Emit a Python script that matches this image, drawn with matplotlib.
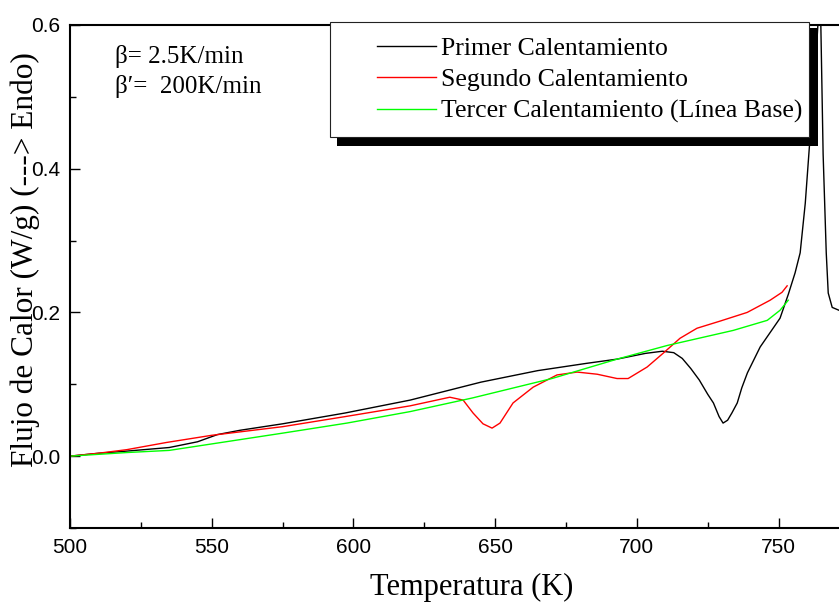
import matplotlib
matplotlib.use("Agg")
import matplotlib.pyplot as plt
from matplotlib.patches import Rectangle
from matplotlib.ticker import MultipleLocator

"""data read off the reference (T in K, heat flow in W/g)"""

t_primer = [500, 510, 520, 535, 545, 552, 560, 575, 597, 620, 645, 665, 682, 693,
            703, 709, 713, 716, 719, 722, 725, 727, 729, 730.4, 732, 733.5, 735.4,
            737, 739, 743.5, 747, 750.5, 753.4, 755.8, 757.6, 759.4, 761.1, 762.9,
            764, 764.8, 765.7, 766.8, 767.5, 768.9, 771.3]
q_primer = [0.0, 0.004, 0.007, 0.012, 0.02, 0.03, 0.036, 0.045, 0.06, 0.078, 0.103,
            0.119, 0.129, 0.135, 0.143, 0.146, 0.144, 0.136, 0.122, 0.106, 0.086,
            0.074, 0.055, 0.046, 0.05, 0.06, 0.074, 0.095, 0.116, 0.152, 0.172,
            0.192, 0.225, 0.255, 0.283, 0.352, 0.444, 0.537, 0.61, 0.62, 0.42,
            0.283, 0.227, 0.207, 0.203]

t_segundo = [500, 510, 520, 534, 550, 575, 597, 620, 634, 638.7, 642.2, 645.7, 648.9,
             651.7, 656.3, 663.4, 671.8, 678.9, 686, 693, 696.9, 703.6, 709.2, 715.2,
             721.2, 729.4, 738.9, 747, 751.2, 753]
q_segundo = [0.0, 0.004, 0.009, 0.019, 0.029, 0.041, 0.055, 0.07, 0.082, 0.078, 0.06,
             0.045, 0.039, 0.046, 0.074, 0.096, 0.113, 0.117, 0.114, 0.108, 0.108,
             0.124, 0.143, 0.164, 0.178, 0.188, 0.2, 0.217, 0.228, 0.237]

t_tercer = [500, 520, 535, 550, 575, 597.7, 620, 642, 670, 693, 710.7, 734, 746,
            750.5, 753.4]
q_tercer = [0.0, 0.005, 0.008, 0.017, 0.032, 0.046, 0.062, 0.081, 0.108, 0.135,
            0.154, 0.175, 0.189, 0.203, 0.217]

labels = ["Primer Calentamiento", "Segundo Calentamiento",
          "Tercer Calentamiento (Línea Base)"]
colors = ["black", "#ff0000", "#00ff00"]

serif = ["Liberation Serif", "DejaVu Serif"]
sans = ["Liberation Sans", "DejaVu Sans"]

W, H = 839, 605
fig = plt.figure(figsize=(W / 100, H / 100), dpi=100)
ax = fig.add_axes([70 / W, 1 - 528 / H, 769 / W, 503 / H])

series = [(t_primer, q_primer), (t_segundo, q_segundo), (t_tercer, q_tercer)]
handles = []
for (t, q), lab, c in zip(series, labels, colors):
    ln, = ax.plot(t, q, color=c, lw=1.0, label=lab)
    handles.append(ln)

ax.set_xlim(500, 771.3)
ax.set_ylim(-0.1, 0.6)
ax.xaxis.set_major_locator(MultipleLocator(50))
ax.xaxis.set_minor_locator(MultipleLocator(25))
ax.yaxis.set_major_locator(MultipleLocator(0.2))
ax.yaxis.set_minor_locator(MultipleLocator(0.1))
ax.tick_params(which="both", direction="in", width=1.0, labelsize=15, pad=7)
ax.tick_params(which="major", length=7.5)
ax.tick_params(which="minor", length=4)
for lab in ax.get_xticklabels() + ax.get_yticklabels():
    lab.set_family(sans)
ax.spines["right"].set_visible(False)
for s in ["left", "bottom", "top"]:
    ax.spines[s].set_linewidth(1.5)

fig.text(472 / W, 1 - 587 / H, "Temperatura (K)", ha="center", va="center",
         fontsize=22, family=serif)
fig.text(25 / W, 1 - 260 / H, "Flujo de Calor (W/g) (---> Endo)", ha="center",
         va="center", rotation=90, fontsize=22.5, family=serif)

fig.text(115 / W, 1 - 56 / H, "β= 2.5K/min", ha="left", va="center",
         fontsize=18, family=serif)
fig.text(115 / W, 1 - 86 / H, "β′=  200K/min", ha="left", va="center",
         fontsize=18, family=serif)

# legend box with a hard black shadow
shadow = Rectangle((337 / W, 1 - 146 / H), 481 / W, 118 / H, transform=fig.transFigure,
                   facecolor="black", edgecolor="none", zorder=3.8, clip_on=False)
box = Rectangle((330 / W, 1 - 137 / H), 479 / W, 115 / H, transform=fig.transFigure,
                facecolor="white", edgecolor="#222222", lw=0.8, zorder=3.9, clip_on=False)
ax.add_patch(shadow)
ax.add_patch(box)

leg = ax.legend(handles=handles, loc="upper left", bbox_to_anchor=(377 / W, 1 - 37 / H),
                bbox_transform=fig.transFigure, frameon=False, borderpad=0,
                borderaxespad=0, handlelength=2.3, handletextpad=0.2,
                labelspacing=0.33, prop={"family": serif, "size": 18.5})
leg.set_zorder(5)

fig.savefig("out.png", dpi=100)
